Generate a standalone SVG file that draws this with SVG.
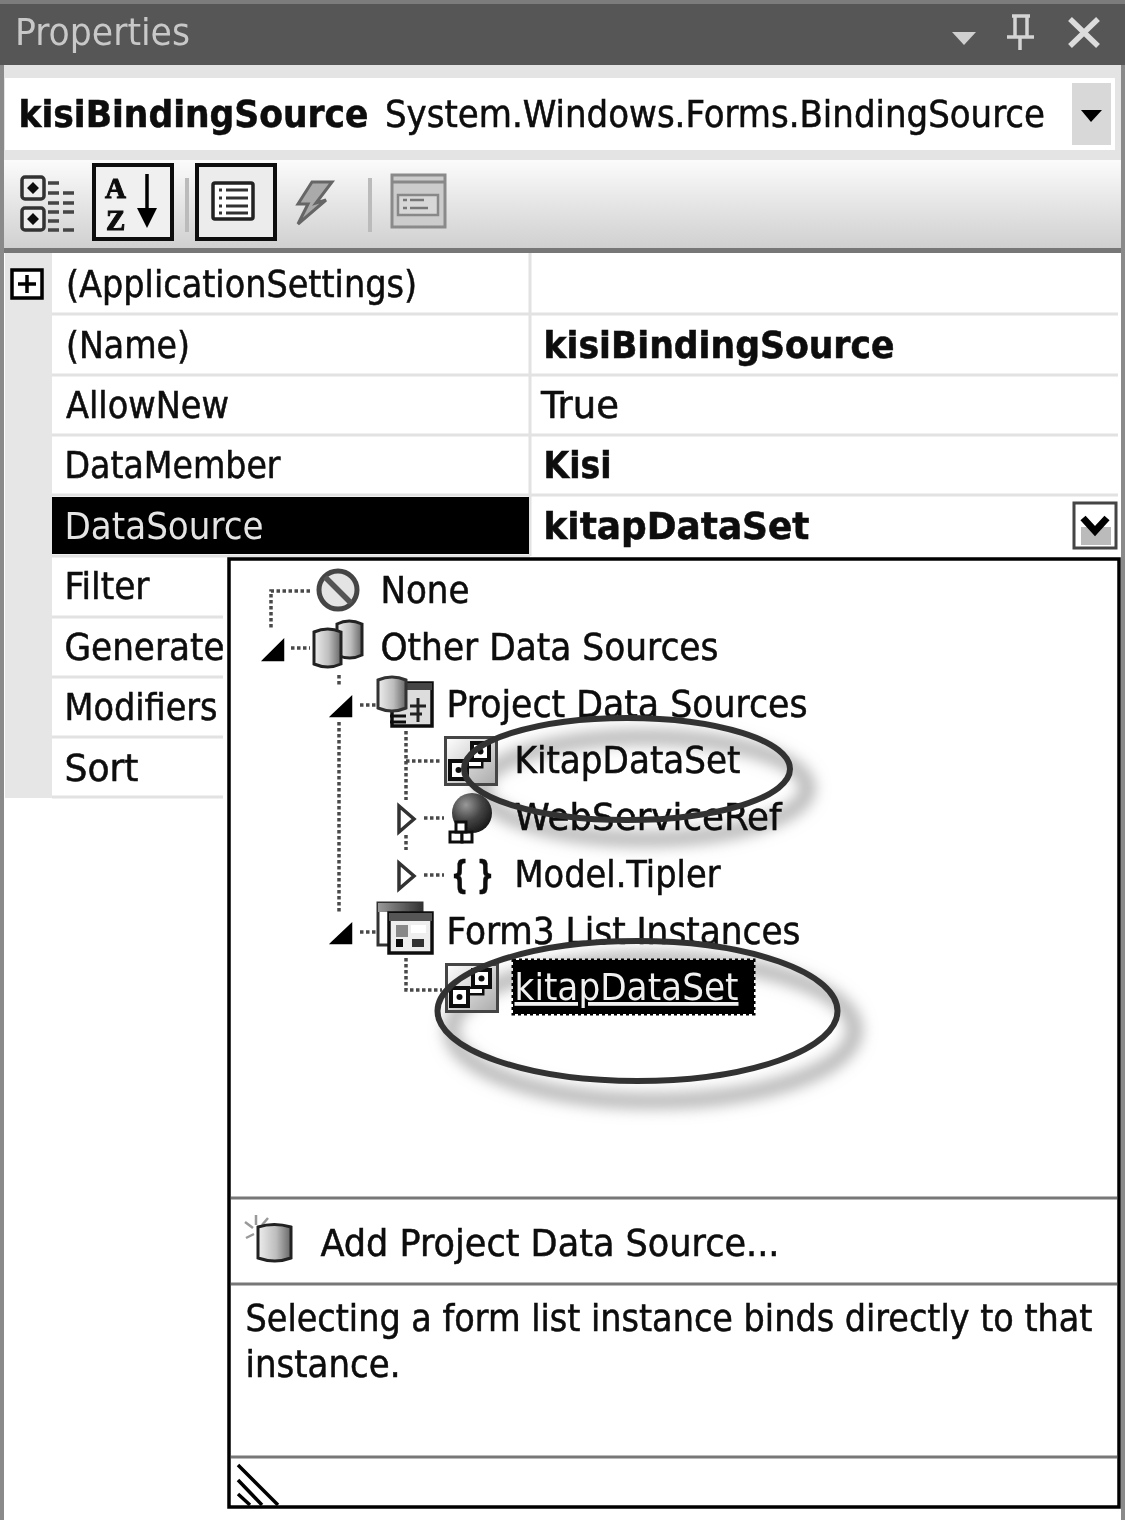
<svg xmlns="http://www.w3.org/2000/svg" xmlns:xlink="http://www.w3.org/1999/xlink" width="1125" height="1520" viewBox="0 0 1125 1520">
<defs>
<style>
text{font-family:"DejaVu Sans Condensed","DejaVu Sans","Liberation Sans",sans-serif;font-stretch:condensed;font-size:38px;fill:#0a0a0a;stroke:#0a0a0a;stroke-width:.5}
.b{font-weight:bold}
.g{stroke:#e2e2e2;stroke-width:3;fill:none}
.dot{stroke:#4a4a4a;stroke-width:3.5;stroke-dasharray:3.5 2.5;fill:none}
.ring{fill:none;stroke:#333;stroke-width:6}
.cy{stroke:#222;stroke-width:3;fill:url(#cyl)}
.ser{font-family:"Liberation Serif",serif;font-stretch:normal;font-size:29px;font-weight:bold;stroke-width:1}
</style>
<linearGradient id="tb" x1="0" y1="0" x2="0" y2="1"><stop offset="0" stop-color="#fbfbfb"/><stop offset="1" stop-color="#d0d0d0"/></linearGradient>
<linearGradient id="cyl" x1="0" y1="0" x2="1" y2="0"><stop offset="0" stop-color="#eee"/><stop offset=".55" stop-color="#bdbdbd"/><stop offset="1" stop-color="#666"/></linearGradient>
<linearGradient id="tile" x1="0" y1="0" x2="1" y2="1"><stop offset="0" stop-color="#fff"/><stop offset="1" stop-color="#aaa"/></linearGradient>
<linearGradient id="ttl" x1="0" y1="0" x2="1" y2="0"><stop offset="0" stop-color="#999"/><stop offset="1" stop-color="#333"/></linearGradient>
<radialGradient id="globe" cx=".35" cy=".3" r=".8"><stop offset="0" stop-color="#999"/><stop offset=".5" stop-color="#444"/><stop offset="1" stop-color="#111"/></radialGradient>
<filter id="sh" x="-20%" y="-40%" width="140%" height="180%"><feGaussianBlur stdDeviation="8"/></filter>
<filter id="soft" filterUnits="userSpaceOnUse" x="0" y="0" width="1125" height="1520"><feGaussianBlur stdDeviation=".7"/></filter>
<g id="dsicon">
<rect x="1.5" y="1.5" width="51" height="47" fill="url(#tile)" stroke="#444" stroke-width="3"/>
<path d="M22 28H35V20" fill="none" stroke="#111" stroke-width="9"/>
<path d="M22 28H35V20" fill="none" stroke="#fff" stroke-width="4"/>
<rect x="6" y="25" width="17" height="18" fill="#fff" stroke="#111" stroke-width="4"/>
<rect x="28" y="7" width="17" height="17" fill="#fff" stroke="#111" stroke-width="4"/>
<circle cx="14.500" cy="34" r="3" fill="#111"/><circle cx="36.500" cy="15.500" r="3" fill="#111"/>
</g>
</defs>
<rect width="1125" height="1520" fill="#fff"/>
<g filter="url(#soft)">
<g id="titlebar">
<rect x="0" y="0" width="1125" height="65" fill="#565656"/>
<rect x="0" y="0" width="1125" height="4" fill="#7c7c7c"/>
<text x="15" y="45" style="fill:#c8c8c8;stroke:none" textLength="175" lengthAdjust="spacingAndGlyphs">Properties</text>
<path d="M952 32H976L964 45Z" fill="#d0d0d0"/>
<path d="M1012 16H1030M1015 16V36M1027 16V36M1007 37H1034M1020 37V50" fill="none" stroke="#d4d4d4" stroke-width="3.500"/>
<path d="M1070 19L1098 46M1098 19L1070 46" fill="none" stroke="#dcdcdc" stroke-width="5.500"/>
</g>
<g id="objectbar">
<rect x="0" y="65" width="1125" height="98" fill="#e4e4e4"/>
<rect x="5" y="78" width="1110" height="72" fill="#fff"/>
<text x="18.500" y="127" class="b" textLength="350" lengthAdjust="spacingAndGlyphs">kisiBindingSource</text>
<text x="385" y="127" textLength="660" lengthAdjust="spacingAndGlyphs">System.Windows.Forms.BindingSource</text>
<rect x="1072" y="83" width="39" height="62" fill="#d8d8d8"/>
<path d="M1081 110H1102L1091 122Z" fill="#000"/>
</g>
<g id="toolbar">
<rect x="0" y="160" width="1125" height="88" fill="url(#tb)"/>
<rect x="0" y="248" width="1125" height="5" fill="#777"/>
<g fill="#eee" stroke="#333" stroke-width="3.500">
<rect x="22" y="177" width="22" height="22" rx="3"/><rect x="22" y="208" width="22" height="22" rx="3"/>
</g>
<path d="M33 182l6 6l-6 6l-6-6zM33 213l6 6l-6 6l-6-6z" fill="#111"/>
<path d="M48 183H60M48 193H78M48 203H78M48 212H78M48 221H60M48 230H78" stroke="#444" stroke-width="3.500" stroke-dasharray="11 4"/>
<rect x="94" y="165" width="78" height="74" fill="#f0f0f0" stroke="#0a0a0a" stroke-width="4"/>
<text x="105" y="198" class="ser">A</text>
<text x="106" y="230" class="ser">Z</text>
<path d="M147 174V212" stroke="#000" stroke-width="3.500"/>
<path d="M137 208H157L147 228Z" fill="#000"/>
<rect x="185" y="178" width="4" height="54" fill="#bbb"/>
<rect x="197" y="165" width="78" height="74" fill="#ececec" stroke="#0a0a0a" stroke-width="4"/>
<rect x="213" y="183" width="40" height="36" rx="2" fill="#fff" stroke="#222" stroke-width="3.500"/>
<path d="M219 190h3M226 190h22M219 198h3M226 198h22M219 206h3M226 206h22M219 213h3M226 213h22" stroke="#333" stroke-width="3"/>
<path d="M312 182H332L316 203L326 200L298 224L308 204H298Z" fill="#aaa" stroke="#666" stroke-width="3"/>
<rect x="368" y="178" width="4" height="54" fill="#bbb"/>
<rect x="392" y="175" width="53" height="52" fill="#ccc" stroke="#8a8a8a" stroke-width="3"/>
<path d="M392 182H445" stroke="#888" stroke-width="3"/>
<path d="M398 195H438V215H398Z" fill="#d8d8d8" stroke="#888" stroke-width="2.500"/>
<path d="M403 200h4M410 200h14M403 208h4M410 208h18" stroke="#777" stroke-width="2.500"/>
</g>
<g id="grid">
<rect x="5" y="253" width="47" height="545" fill="#e6e6e6"/>
<path class="g" d="M52 314H1118M52 375H1118M52 435H1118M52 495H1118M52 556H530M52 617H223M52 677H223M52 737H223M52 797H223M530 253V556"/>
<rect x="52" y="497" width="477" height="57" fill="#000"/>
<rect x="12" y="270" width="30" height="28" fill="#fff" stroke="#000" stroke-width="3.500"/>
<path d="M18 284H36M27 275V293" stroke="#000" stroke-width="3.500"/>
<text x="66" y="297" textLength="351" lengthAdjust="spacingAndGlyphs">(ApplicationSettings)</text>
<text x="66" y="358" textLength="124" lengthAdjust="spacingAndGlyphs">(Name)</text>
<text x="66" y="418" textLength="163" lengthAdjust="spacingAndGlyphs">AllowNew</text>
<text x="64.500" y="478" textLength="216" lengthAdjust="spacingAndGlyphs">DataMember</text>
<text x="64.500" y="539" style="fill:#e4e4e4;stroke:none" textLength="199" lengthAdjust="spacingAndGlyphs">DataSource</text>
<text x="64.500" y="599" textLength="85" lengthAdjust="spacingAndGlyphs">Filter</text>
<text x="64.500" y="660" textLength="160" lengthAdjust="spacingAndGlyphs">Generate</text>
<text x="64.500" y="720" textLength="153" lengthAdjust="spacingAndGlyphs">Modifiers</text>
<text x="64.500" y="781" textLength="74" lengthAdjust="spacingAndGlyphs">Sort</text>
<text x="543.500" y="358" class="b" textLength="351" lengthAdjust="spacingAndGlyphs">kisiBindingSource</text>
<text x="541" y="418" textLength="78" lengthAdjust="spacingAndGlyphs">True</text>
<text x="543.500" y="478" class="b" textLength="68" lengthAdjust="spacingAndGlyphs">Kisi</text>
<text x="543.500" y="539" class="b" textLength="266" lengthAdjust="spacingAndGlyphs">kitapDataSet</text>
<rect x="1074" y="503" width="42" height="45" fill="#fff" stroke="#444" stroke-width="3"/>
<rect x="1081" y="527" width="30" height="18" fill="#bbb"/>
<path d="M1083 518L1095 531L1107 518" fill="none" stroke="#000" stroke-width="7"/>
</g>
<g id="popup">
<rect x="229" y="559" width="890" height="948" fill="#fff" stroke="#000" stroke-width="3.500"/>
<path d="M231 1198H1117M231 1284H1117M231 1457H1117" stroke="#777" stroke-width="3"/>
<path d="M238 1465L278 1505M238 1480L262 1505M238 1494L250 1505" stroke="#000" stroke-width="3.500"/>
</g>
<g id="ring-shadows" stroke="#999" stroke-width="11" fill="none">
<ellipse cx="645" cy="788" rx="163" ry="51" filter="url(#sh)"/>
<ellipse cx="653" cy="1030" rx="202" ry="71" filter="url(#sh)"/>
</g>
<g id="connectors">
<path class="dot" d="M310 591H271V628M291 648H310M339 675V686M339 722V912M360 705H376M360 932H376M406 731V800M406 835V850M406 761H440M424 818H444M424 875H444M406 958V990H442"/>
</g>
<g id="tree">
<path d="M264 660L283 641V660Z M332 716L351 698V716Z M332 943L351 925V943Z" fill="#000" stroke="#000" stroke-width="2.500"/>
<path d="M399 806L414 819L399 832Z M399 863L414 876L399 889Z" fill="#fff" stroke="#333" stroke-width="3.500"/>
<g id="n-none"><circle cx="338" cy="590" r="19" fill="#e4e4e4" stroke="#444" stroke-width="5"/><path d="M325 577L351 603" stroke="#555" stroke-width="5.500"/>
<text x="380.500" y="603" textLength="89" lengthAdjust="spacingAndGlyphs">None</text></g>
<g id="n-other">
<path class="cy" d="M337 624q12-6 25 0V655q-12 6-25 0Z"/><path class="cy" d="M314 632q14-6 27 0V664q-13 6-27 0Z"/>
<text x="380.500" y="660" textLength="338" lengthAdjust="spacingAndGlyphs">Other Data Sources</text></g>
<g id="n-project">
<path d="M392 683H432V726H392Z" fill="#ddd" stroke="#111" stroke-width="3.500"/><rect x="392" y="683" width="40" height="7" fill="#444"/>
<path d="M410 706h16M410 714h12M418 698v24" stroke="#222" stroke-width="3"/>
<path d="M390 716h16M390 722h16" stroke="#111" stroke-width="3"/>
<path d="M378 680q14-6 28 0V708q-14 6-28 0Z" fill="url(#cyl)" stroke="#333" stroke-width="3"/>
<text x="446.500" y="717" textLength="361" lengthAdjust="spacingAndGlyphs">Project Data Sources</text></g>
<g id="n-kitap1"><use href="#dsicon" xlink:href="#dsicon" x="444" y="736"/><text x="514.500" y="773" textLength="226" lengthAdjust="spacingAndGlyphs">KitapDataSet</text></g>
<g id="n-web"><circle cx="472" cy="813" r="20" fill="url(#globe)"/><rect x="450" y="832" width="12" height="10" fill="#fff" stroke="#111" stroke-width="3"/><rect x="462" y="832" width="10" height="10" fill="#fff" stroke="#111" stroke-width="3"/><rect x="456" y="822" width="10" height="10" fill="#fff" stroke="#111" stroke-width="3"/>
<text x="514.500" y="830" textLength="267" lengthAdjust="spacingAndGlyphs">WebServiceRef</text></g>
<g id="n-model"><text x="451" y="887" style="font-weight:bold" textLength="43" lengthAdjust="spacingAndGlyphs">{ }</text>
<text x="514.500" y="887" textLength="206" lengthAdjust="spacingAndGlyphs">Model.Tipler</text></g>
<g id="n-form">
<rect x="378" y="903" width="44" height="42" fill="#fff" stroke="#333" stroke-width="3"/><rect x="378" y="903" width="44" height="9" fill="url(#ttl)"/>
<rect x="389" y="913" width="43" height="40" fill="#eee" stroke="#111" stroke-width="3.500"/><rect x="389" y="913" width="43" height="8" fill="#555"/><rect x="396" y="925" width="12" height="12" fill="#888"/><rect x="411" y="925" width="15" height="8" fill="#fff"/><rect x="396" y="939" width="7" height="8" fill="#111"/><rect x="412" y="939" width="12" height="8" fill="#333"/>
<text x="446.500" y="944" textLength="354" lengthAdjust="spacingAndGlyphs">Form3 List Instances</text></g>
<g id="n-kitap2"><use href="#dsicon" xlink:href="#dsicon" x="445" y="963"/>
<rect x="513" y="960" width="241" height="54" fill="#000" stroke="#000" stroke-width="3" stroke-dasharray="3 3"/>
<text x="514.500" y="1000" style="fill:#f0f0f0;stroke:none;text-decoration:underline" textLength="224" lengthAdjust="spacingAndGlyphs">kitapDataSet</text></g>
</g>
<g id="rings">
<ellipse cx="627" cy="769" rx="163" ry="51" class="ring"/>
<ellipse cx="637.500" cy="1011" rx="200" ry="70" class="ring"/>
</g>
<g id="footer">
<path d="M245 1222l8 6M256 1215v10M268 1218l-6 7M246 1238l8-4" stroke="#999" stroke-width="2.500"/>
<path class="cy" d="M258 1227q16-5 33 0V1258q-16 6-33 0Z"/>
<text x="320.500" y="1256" textLength="459" lengthAdjust="spacingAndGlyphs">Add Project Data Source...</text>
<text x="245.500" y="1331" textLength="847" lengthAdjust="spacingAndGlyphs">Selecting a form list instance binds directly to that</text>
<text x="245.500" y="1377" textLength="155" lengthAdjust="spacingAndGlyphs">instance.</text>
</g>
<rect x="0" y="65" width="4" height="1455" fill="#8a8a8a"/>
<rect x="1121" y="65" width="4" height="1455" fill="#8a8a8a"/>
</g>
</svg>
